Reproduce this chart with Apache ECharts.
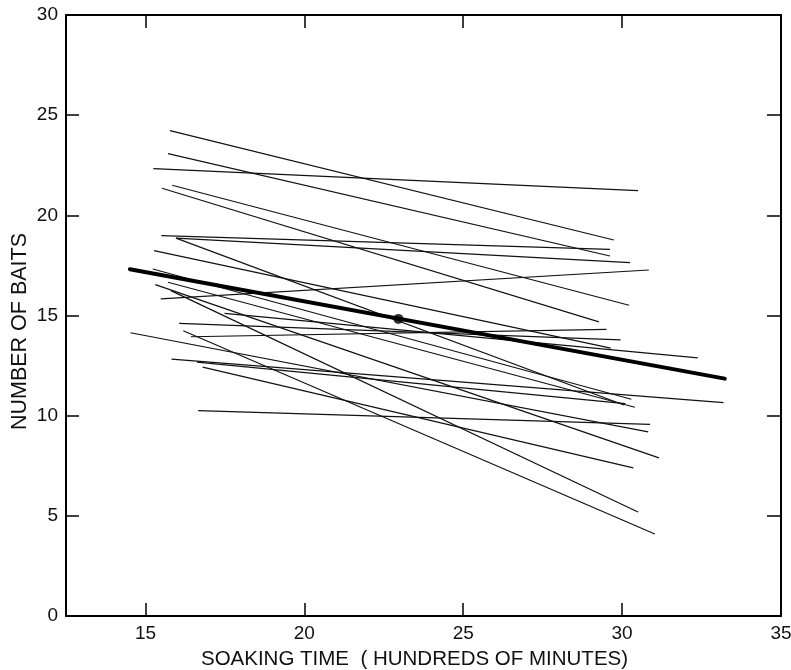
<!DOCTYPE html>
<html lang="en">

<head>
    <meta charset="utf-8">
    <title>Number of baits vs soaking time</title>
    <script src="https://cdn.jsdelivr.net/npm/echarts@6.0.0/dist/echarts.min.js"></script>
    <style>
        body { margin: 0; background: #fff; }
    </style>
</head>

<body>
    <div style="width: 791px;height: 670px" id="baits"></div>

    <script type="text/javascript">
        // one regression segment per row: start point -> end point
        var startX = [15.77, 15.71, 15.25, 15.84, 15.52, 15.50, 15.96, 15.96, 15.27, 15.23, 15.31, 15.71,
            15.48, 15.80, 17.49, 16.06, 14.53, 16.19, 16.43, 15.82, 16.62, 16.80, 16.66];
        var startY = [24.23, 23.08, 22.33, 21.50, 21.35, 18.99, 18.86, 18.86, 18.24, 17.32, 16.54, 16.66,
            15.83, 16.24, 15.11, 14.61, 14.14, 14.24, 13.94, 12.82, 12.67, 12.42, 10.25];
        var endX = [29.74, 29.62, 30.50, 30.22, 29.27, 29.62, 30.25, 30.06, 29.64, 30.29, 31.16, 30.40,
            30.84, 30.50, 32.38, 29.95, 30.82, 31.03, 29.51, 33.19, 30.10, 30.35, 30.88];
        var endY = [18.77, 17.97, 21.23, 15.51, 14.68, 18.30, 17.64, 10.53, 13.37, 10.82, 7.89, 10.42,
            17.27, 5.19, 12.88, 13.78, 9.19, 4.09, 14.31, 10.65, 10.60, 7.39, 9.57];

        // pooled line and its mean point
        var pooledX = [14.51, 33.23];
        var pooledY = [17.31, 11.85];
        var meanPoint = [22.96, 14.83];

        var xTicks = [15, 20, 25, 30];
        var xLabels = [15, 20, 25, 30, 35];
        var yTicks = [5, 10, 15, 20, 25];

        var series = [];
        for (var i = 0; i < startX.length; i++) {
            series.push({
                type: 'line',
                data: [[startX[i], startY[i]], [endX[i], endY[i]]],
                symbol: 'none',
                silent: true,
                lineStyle: { color: '#111', width: 1.2 }
            });
        }
        series.push({
            type: 'line',
            data: [[pooledX[0], pooledY[0]], [pooledX[1], pooledY[1]]],
            symbol: 'none',
            silent: true,
            lineStyle: { color: '#000', width: 4, cap: 'round' }
        });
        series.push({
            type: 'scatter',
            data: [meanPoint],
            symbolSize: 10,
            silent: true,
            itemStyle: { color: '#000' }
        });

        var axisFont = { color: '#111', fontSize: 19, fontFamily: 'Liberation Sans' };
        var axisLine = { show: true, onZero: false, lineStyle: { color: '#000', width: 2 } };

        var myChart = echarts.init(document.getElementById('baits'));
        option = {
            backgroundColor: '#fff',
            animation: false,
            grid: {
                left: 66,
                right: 10,
                top: 15,
                bottom: 54,
                containLabel: false,
                outerBoundsMode: 'none'
            },
            xAxis: [{
                type: 'value',
                position: 'bottom',
                min: 12.5,
                max: 35,
                name: 'SOAKING TIME  ( HUNDREDS OF MINUTES)',
                nameLocation: 'middle',
                nameGap: 33,
                nameTextStyle: {
                    color: '#111', fontSize: 20.5, fontFamily: 'Liberation Sans',
                    padding: [0, 18, 0, 0]
                },
                axisLine: axisLine,
                axisTick: { inside: true, length: 13, customValues: xTicks, lineStyle: { color: '#000', width: 1.5 } },
                axisLabel: Object.assign({ margin: 8, customValues: xLabels }, axisFont),
                splitLine: { show: false }
            }, {
                type: 'value',
                position: 'top',
                min: 12.5,
                max: 35,
                axisLine: axisLine,
                axisTick: { inside: true, length: 13, customValues: xTicks, lineStyle: { color: '#000', width: 1.5 } },
                axisLabel: { show: false },
                splitLine: { show: false }
            }],
            yAxis: [{
                type: 'value',
                position: 'left',
                min: 0,
                max: 30,
                interval: 5,
                name: 'NUMBER OF BAITS',
                nameLocation: 'middle',
                nameMoveOverlap: false,
                nameGap: 35,
                nameTextStyle: {
                    color: '#111', fontSize: 21.5, fontFamily: 'Liberation Sans',
                    padding: [12, 32, 0, 0]
                },
                axisLine: axisLine,
                axisTick: { inside: true, length: 13, customValues: yTicks, lineStyle: { color: '#000', width: 1.5 } },
                axisLabel: Object.assign({ margin: 8 }, axisFont),
                splitLine: { show: false }
            }, {
                type: 'value',
                position: 'right',
                min: 0,
                max: 30,
                interval: 5,
                axisLine: axisLine,
                axisTick: { inside: true, length: 14, customValues: yTicks, lineStyle: { color: '#000', width: 1.5 } },
                axisLabel: { show: false },
                splitLine: { show: false }
            }],
            series: series
        };
        myChart.setOption(option);
    </script>
</body>

</html>
